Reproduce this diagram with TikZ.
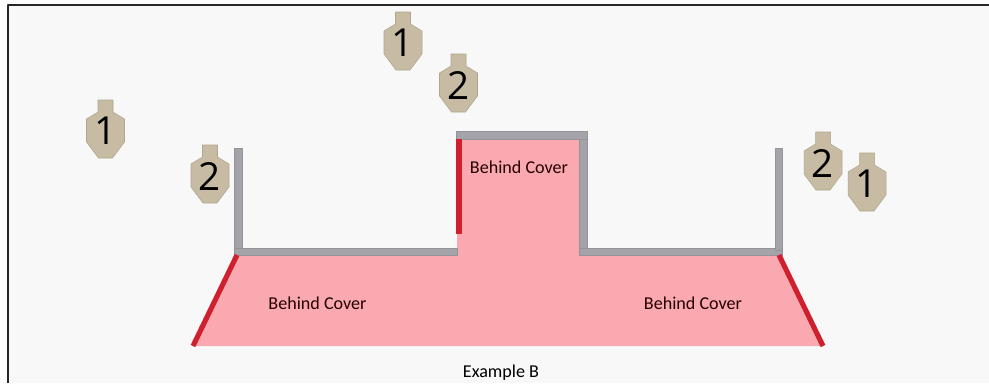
\documentclass[tikz,border=0pt]{standalone}
\usepackage{fontspec}
\setmainfont{Carlito}
\newfontfamily\numfont{Open Sans}
\definecolor{mybg}{HTML}{F8F8F8}
\definecolor{mywall}{HTML}{A3A3A9}
\definecolor{myzone}{HTML}{FBA9B1}
\definecolor{myred}{HTML}{CF202E}
\definecolor{mytan}{HTML}{C7BBA3}
\definecolor{myedge}{HTML}{B0A58F}
\tikzset{
  wallbar/.style={fill=mywall,draw=mywall!90!black,line width=0.15pt},
  redline/.style={draw=myred,line width=2.9pt},
  zonelabel/.style={font=\fontsize{10.3}{12}\selectfont,text=black!85!red},
  targetnum/.style={font=\numfont\fontsize{22}{24}\selectfont,text=black}
}
\newcommand \mydrawtarget[4]
{
\coordinate (#1) at (#2,#3);
\draw[fill=mytan,draw=myedge,line width=0.3pt] ($(#1)+(-7.5,0)$)--($(#1)+(7.5,0)$)--($(#1)+(7.5,12)$)--($(#1)+(19,19)$)--($(#1)+(19,42)$)--($(#1)+(7,58)$)--($(#1)+(-7,58)$)--($(#1)+(-19,42)$)--($(#1)+(-19,19)$)--($(#1)+(-7.5,12)$)--cycle;
\node[targetnum] (#1num) at ($(#1)+(0,31)$) {#4};
}
\usetikzlibrary{calc}
\begin{document}
\begin{tikzpicture}[x=0.02cm,y=-0.02cm,line join=round]
\useasboundingbox (0,0) rectangle (989,383);
\fill[white] (0,0) rectangle (989,383);
\fill[mybg] (8,4) rectangle (989,383);
\draw[black!85,line width=1.2pt] (8,383)--(8,5)--(989,5);
% covered area
\fill[myzone] (237,255)--(457,255)--(457,139)--(579,139)--(579,255)--(780,255)--(823,346)--(192,346)--cycle;
% walls
\draw[wallbar] (234,148) rectangle (242,250);
\draw[wallbar] (234,248) rectangle (457,255);
\draw[wallbar] (456,131) rectangle (587,139);
\draw[wallbar] (579,139) rectangle (587,255);
\draw[wallbar] (579,248) rectangle (782,255);
\draw[wallbar] (775,148) rectangle (782,250);
% red edges
\coordinate (L1) at (237,255);
\coordinate (L2) at (193,346);
\coordinate (R1) at (779,255);
\coordinate (R2) at (823,346);
\coordinate (M1) at (459,139);
\coordinate (M2) at (459,234);
\draw[redline] (L1)--(L2);
\draw[redline] (R1)--(R2);
\draw[redline] (M1)--(M2);
% targets
\mydrawtarget{tA}{105.5}{100}{1}
\mydrawtarget{tB}{210}{145}{2}
\mydrawtarget{tC}{403}{12}{1}
\mydrawtarget{tD}{458.5}{54}{2}
\mydrawtarget{tE}{823}{132}{2}
\mydrawtarget{tF}{867}{153}{1}
% labels
\node[zonelabel] (coverL) at (317.5,303) {Behind Cover};
\node[zonelabel] (coverM) at (519,167) {Behind Cover};
\node[zonelabel] (coverR) at (693,303) {Behind Cover};
\node[zonelabel,text=black] (caption) at (501,372.5) {Example B};
\end{tikzpicture}
\end{document}
